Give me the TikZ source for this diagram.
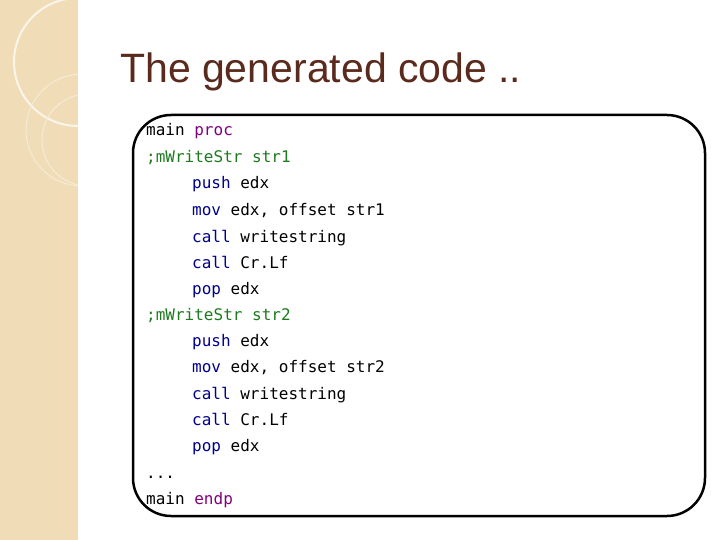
\documentclass[tikz,border=0pt]{standalone}
\usepackage{fontspec}
\setmainfont{Liberation Sans}
\setmonofont{DejaVu Sans Mono}
\begin{document}
\begin{tikzpicture}[x=1pt,y=-1pt,
  code/.style={anchor=base west,inner sep=0pt,font=\ttfamily\fontsize{16}{18}\selectfont}]
\definecolor{strip}{HTML}{F0DDB8}
\definecolor{ttl}{HTML}{5A2A1C}
\definecolor{cmt}{HTML}{1E7A1E}
\definecolor{kwp}{HTML}{800080}
\definecolor{kwb}{HTML}{00008B}
\useasboundingbox (0,0) rectangle (720,540);
\fill[white] (0,0) rectangle (720,540);
\fill[strip] (0,0) rectangle (78,540);
\begin{scope}
\clip (0,0) rectangle (78,540);
\draw[white!70!strip,line width=2pt] (78,62) circle (64);
\draw[white!40!strip,line width=1pt] (82,130) circle (56);
\draw[white!40!strip,line width=1pt] (88,140) circle (46);
\end{scope}
\node[anchor=base west,inner sep=0pt,text=ttl,font=\fontsize{41}{46}\selectfont] (title) at (120,83) {The generated code ..};
\draw[line width=2.5pt,rounded corners=38pt] (133,115) rectangle (705,516);
\node[code] (l1) at (146,136) {main \textcolor{kwp}{proc}};
\node[code,text=cmt] (l2) at (146,163) {;mWriteStr str1};
\node[code] (l3) at (192,189) {\textcolor{kwb}{push} edx};
\node[code] (l4) at (192,215) {\textcolor{kwb}{mov} edx, offset str1};
\node[code] (l5) at (192,242) {\textcolor{kwb}{call} writestring};
\node[code] (l6) at (192,268) {\textcolor{kwb}{call} Cr.Lf};
\node[code] (l7) at (192,294) {\textcolor{kwb}{pop} edx};
\node[code,text=cmt] (l8) at (146,320) {;mWriteStr str2};
\node[code] (l9) at (192,346) {\textcolor{kwb}{push} edx};
\node[code] (l10) at (192,372) {\textcolor{kwb}{mov} edx, offset str2};
\node[code] (l11) at (192,399) {\textcolor{kwb}{call} writestring};
\node[code] (l12) at (192,425) {\textcolor{kwb}{call} Cr.Lf};
\node[code] (l13) at (192,451) {\textcolor{kwb}{pop} edx};
\node[code] (l14) at (146,478) {...};
\node[code] (l15) at (146,504) {main \textcolor{kwp}{endp}};
\end{tikzpicture}
\end{document}
